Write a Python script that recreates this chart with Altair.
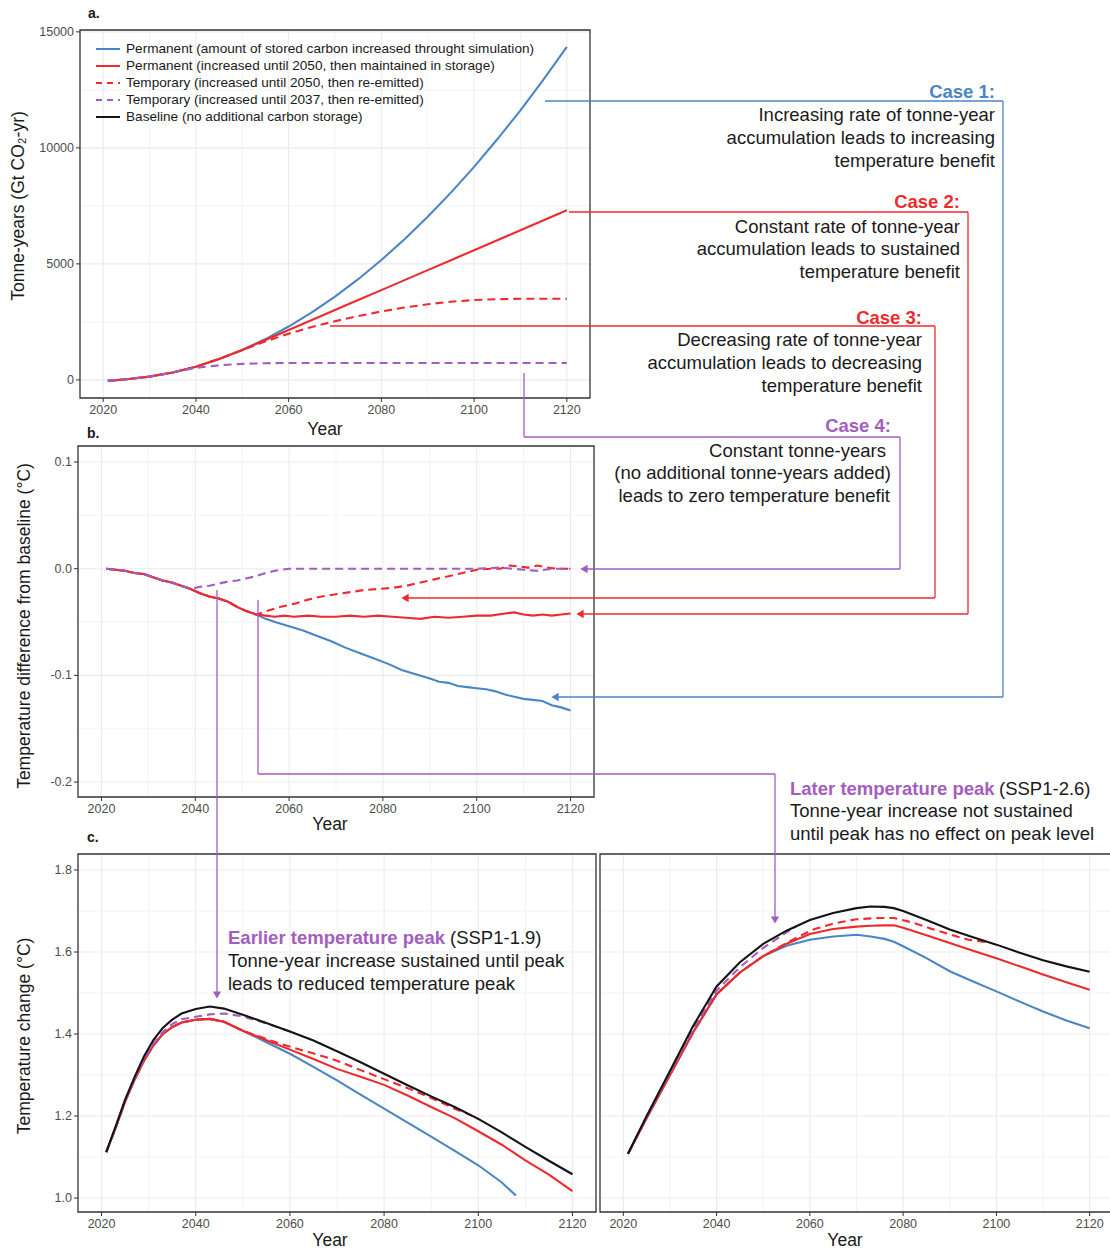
import altair as alt
import pandas as pd

# ---------------------------------------------------------------------------
# Series definitions
# ---------------------------------------------------------------------------
SERIES = ["perm_inc", "perm_2050", "temp_2050", "temp_2037", "baseline"]
LEGEND_LABELS = [
    "Permanent (amount of stored carbon increased throught simulation)",
    "Permanent (increased until 2050, then maintained in storage)",
    "Temporary (increased until 2050, then re-emitted)",
    "Temporary (increased until 2037, then re-emitted)",
    "Baseline (no additional carbon storage)",
]

BLUE, RED, PURPLE, BLACK = "#4A86C5", "#EE2A2E", "#A35DC1", "#141414"
TEXT = "#1A1A1A"
COLOR = {"perm_inc": BLUE, "perm_2050": RED, "temp_2050": RED,
         "temp_2037": PURPLE, "baseline": BLACK}
DASHED = {"perm_inc": False, "perm_2050": False, "temp_2050": True,
          "temp_2037": True, "baseline": False}

# ---------------------------------------------------------------------------
# a. Tonne-years (Gt CO2-yr)
# ---------------------------------------------------------------------------
A_YEARS = [2021, 2025, 2030, 2035, 2040, 2045, 2050, 2055, 2060, 2065, 2070,
           2075, 2080, 2085, 2090, 2095, 2100, 2105, 2110, 2115, 2120]
A_PERM_INC = [-40, 30, 140, 320, 570, 900, 1290, 1760, 2300, 2910, 3590,
              4340, 5170, 6060, 7030, 8070, 9180, 10370, 11620, 12950, 14350]
A_PERM_2050 = [-40, 30, 140, 320, 570, 900, 1290, 1720, 2150, 2580, 3010,
               3440, 3870, 4300, 4730, 5160, 5590, 6020, 6450, 6880, 7310]
A_TEMP_2050 = [-40, 30, 140, 320, 570, 900, 1290, 1660, 1990, 2280, 2530,
               2750, 2950, 3120, 3260, 3370, 3440, 3480, 3500, 3500, 3500]
A_YEARS_2037 = [2021, 2025, 2030, 2035, 2037, 2040, 2045, 2050, 2055, 2060,
                2070, 2080, 2090, 2100, 2110, 2120]
A_TEMP_2037 = [-40, 30, 140, 320, 410, 520, 630, 690, 720, 730,
               730, 730, 730, 730, 730, 730]

# ---------------------------------------------------------------------------
# b. Temperature difference from baseline (degC)
# ---------------------------------------------------------------------------
B_SHARED_YEARS = [2021, 2023, 2025, 2027, 2029, 2031, 2033, 2035, 2037, 2039,
                  2041, 2043, 2045, 2047, 2049, 2051, 2053]
B_SHARED = [0.000, -0.001, -0.002, -0.004, -0.005, -0.008, -0.011, -0.013,
            -0.016, -0.019, -0.023, -0.026, -0.028, -0.031, -0.036, -0.040,
            -0.043]
B_INC_YEARS = [2055, 2057, 2060, 2063, 2066, 2069, 2072, 2075, 2078, 2081,
               2084, 2087, 2090, 2092, 2094, 2096, 2098, 2100, 2102, 2104,
               2106, 2108, 2110, 2112, 2114, 2116, 2118, 2120]
B_PERM_INC = [-0.047, -0.050, -0.054, -0.058, -0.063, -0.068, -0.074, -0.079,
              -0.084, -0.089, -0.095, -0.099, -0.103, -0.106, -0.107, -0.110,
              -0.111, -0.112, -0.113, -0.115, -0.118, -0.120, -0.122, -0.123,
              -0.124, -0.128, -0.130, -0.133]
B_P50_YEARS = [2055, 2057, 2059, 2061, 2064, 2067, 2070, 2073, 2076, 2079,
               2082, 2085, 2088, 2091, 2094, 2097, 2100, 2103, 2106, 2108,
               2110, 2112, 2114, 2116, 2118, 2120]
B_PERM_2050 = [-0.044, -0.045, -0.044, -0.045, -0.044, -0.045, -0.045, -0.044,
               -0.045, -0.044, -0.045, -0.046, -0.047, -0.045, -0.046, -0.045,
               -0.044, -0.044, -0.042, -0.041, -0.043, -0.044, -0.043, -0.044,
               -0.043, -0.042]
B_T50_YEARS = [2055, 2058, 2061, 2064, 2067, 2070, 2073, 2076, 2079, 2082,
               2085, 2088, 2091, 2094, 2097, 2100, 2103, 2105, 2107, 2109,
               2111, 2113, 2115, 2117, 2120]
B_TEMP_2050 = [-0.040, -0.036, -0.033, -0.029, -0.026, -0.024, -0.022, -0.020,
               -0.019, -0.018, -0.016, -0.013, -0.010, -0.007, -0.004, -0.001,
               0.000, 0.000, 0.003, 0.002, 0.001, 0.003, 0.001, 0.000, 0.000]
B_T37_YEARS = [2039, 2041, 2043, 2045, 2047, 2049, 2051, 2053, 2055, 2057,
               2060, 2065, 2070, 2075, 2080, 2085, 2090, 2095, 2100, 2105,
               2110, 2113, 2116, 2120]
B_TEMP_2037 = [-0.019, -0.017, -0.016, -0.014, -0.012, -0.011, -0.009, -0.007,
               -0.004, -0.002, 0.000, 0.000, 0.000, 0.000, 0.000, 0.000,
               0.000, 0.000, 0.000, 0.001, -0.001, -0.002, 0.000, 0.000]

# ---------------------------------------------------------------------------
# c. Temperature change (degC): SSP1-1.9 (left) and SSP1-2.6 (right)
# ---------------------------------------------------------------------------
C1_YEARS = [2021, 2023, 2025, 2027, 2029, 2031, 2033, 2035, 2037, 2040, 2043,
            2046, 2050, 2055, 2060, 2065, 2070, 2075, 2080, 2085, 2090, 2095,
            2100, 2105, 2110, 2115, 2120]
C1_BASELINE = [1.112, 1.175, 1.240, 1.295, 1.345, 1.385, 1.415, 1.435, 1.450,
               1.461, 1.467, 1.462, 1.447, 1.427, 1.406, 1.384, 1.358, 1.331,
               1.303, 1.275, 1.248, 1.222, 1.193, 1.160, 1.125, 1.091, 1.058]
C1_PERM_2050 = [1.112, 1.172, 1.235, 1.288, 1.335, 1.372, 1.400, 1.417, 1.428,
                1.435, 1.437, 1.430, 1.408, 1.385, 1.362, 1.339, 1.315, 1.296,
                1.276, 1.250, 1.222, 1.195, 1.163, 1.130, 1.092, 1.057, 1.017]
C1_INC_YEARS = [2021, 2023, 2025, 2027, 2029, 2031, 2033, 2035, 2037, 2040,
                2043, 2046, 2050, 2055, 2060, 2065, 2070, 2075, 2080, 2085,
                2090, 2095, 2100, 2105, 2108]
C1_PERM_INC = [1.112, 1.172, 1.235, 1.288, 1.335, 1.372, 1.400, 1.417, 1.428,
               1.435, 1.437, 1.430, 1.408, 1.380, 1.352, 1.320, 1.287, 1.252,
               1.218, 1.184, 1.150, 1.115, 1.080, 1.038, 1.006]
C1_T50_YEARS = [2021, 2023, 2025, 2027, 2029, 2031, 2033, 2035, 2037, 2040,
                2043, 2046, 2050, 2055, 2058, 2061, 2064, 2067, 2070, 2075,
                2080, 2085, 2090, 2095, 2098, 2100]
C1_TEMP_2050 = [1.112, 1.172, 1.235, 1.288, 1.335, 1.372, 1.400, 1.417, 1.428,
                1.435, 1.437, 1.430, 1.408, 1.388, 1.376, 1.366, 1.356, 1.346,
                1.335, 1.312, 1.290, 1.268, 1.244, 1.218, 1.204, 1.193]
C1_T37_YEARS = [2021, 2023, 2025, 2027, 2029, 2031, 2033, 2035, 2037, 2040,
                2043, 2046, 2050, 2053, 2056, 2060]
C1_TEMP_2037 = [1.112, 1.173, 1.237, 1.290, 1.338, 1.376, 1.405, 1.424, 1.436,
                1.442, 1.448, 1.450, 1.443, 1.433, 1.422, 1.406]

C2_YEARS = [2021, 2025, 2030, 2035, 2040, 2045, 2050, 2055, 2060, 2065, 2070,
            2073, 2076, 2078, 2080, 2085, 2090, 2095, 2100, 2105, 2110, 2115,
            2120]
C2_BASELINE = [1.108, 1.200, 1.310, 1.420, 1.516, 1.575, 1.620, 1.652, 1.678,
               1.695, 1.707, 1.711, 1.710, 1.707, 1.700, 1.678, 1.655, 1.636,
               1.618, 1.598, 1.580, 1.565, 1.552]
C2_PERM_2050 = [1.108, 1.195, 1.300, 1.405, 1.497, 1.550, 1.590, 1.620, 1.644,
                1.656, 1.662, 1.664, 1.665, 1.665, 1.659, 1.641, 1.622, 1.603,
                1.585, 1.565, 1.545, 1.526, 1.508]
C2_PERM_INC = [1.108, 1.195, 1.300, 1.405, 1.497, 1.550, 1.590, 1.615, 1.630,
               1.638, 1.642, 1.638, 1.632, 1.625, 1.614, 1.585, 1.553, 1.528,
               1.504, 1.479, 1.455, 1.433, 1.414]
C2_T50_YEARS = [2021, 2025, 2030, 2035, 2040, 2045, 2050, 2055, 2058, 2061,
                2065, 2070, 2075, 2078, 2082, 2086, 2090, 2094, 2098]
C2_TEMP_2050 = [1.108, 1.195, 1.300, 1.405, 1.497, 1.550, 1.590, 1.622, 1.640,
                1.656, 1.669, 1.680, 1.683, 1.683, 1.672, 1.657, 1.643, 1.630,
                1.624]
C2_T37_YEARS = [2021, 2025, 2030, 2035, 2040, 2045, 2050, 2055, 2057]
C2_TEMP_2037 = [1.108, 1.198, 1.305, 1.412, 1.506, 1.563, 1.610, 1.648, 1.662]

# ---------------------------------------------------------------------------
# Axis breaks and labels
# ---------------------------------------------------------------------------
X_DOMAIN = [2015, 2125]
X_MAJOR = [2020, 2040, 2060, 2080, 2100, 2120]
X_MINOR = [2030, 2050, 2070, 2090, 2110]
A_Y_MAJOR = [0, 5000, 10000, 15000]
A_Y_LABELS = ["0", "5000", "10000", "15000"]
A_Y_MINOR = [2500, 7500, 12500]
B_Y_MAJOR = [-0.2, -0.1, 0.0, 0.1]
B_Y_LABELS = ["-0.2", "-0.1", "0.0", "0.1"]
B_Y_MINOR = [-0.15, -0.05, 0.05]
C_Y_MAJOR = [1.0, 1.2, 1.4, 1.6, 1.8]
C_Y_LABELS = ["1.0", "1.2", "1.4", "1.6", "1.8"]
C_Y_MINOR = [1.1, 1.3, 1.5, 1.7]

# ---------------------------------------------------------------------------
# Page layout (pixels)
# ---------------------------------------------------------------------------
W, H = 1110, 1252
FONT = "Liberation Sans"
GRID = "#EBEBEB"
FRAME = "#333333"
TICK_TEXT = "#4D4D4D"
NOTE_SIZE = 18.5


def series_frame(years, values):
    return pd.DataFrame({"year": years, "value": values})


def panel(lines, px, py, ydom, ymajor, ylabels, yminor, show_y=True):
    """One framed panel with its own x/y scales mapped into a page region."""
    xs = alt.Scale(domain=X_DOMAIN, range=list(px), nice=False, zero=False)
    ys = alt.Scale(domain=ydom, range=[py[1], py[0]], nice=False, zero=False)
    X = lambda f: alt.X(f, scale=xs, axis=None)
    Y = lambda f: alt.Y(f, scale=ys, axis=None)
    layers = []
    # grid
    for vals, w in ((X_MINOR, 0.6), (X_MAJOR, 1.1)):
        layers.append(alt.Chart(pd.DataFrame({"v": vals}))
                      .mark_rule(color=GRID, strokeWidth=w)
                      .encode(x=X("v:Q"), y=alt.value(py[0]), y2=alt.value(py[1])))
    for vals, w in ((yminor, 0.6), (ymajor, 1.1)):
        layers.append(alt.Chart(pd.DataFrame({"v": vals}))
                      .mark_rule(color=GRID, strokeWidth=w)
                      .encode(y=Y("v:Q"), x=alt.value(px[0]), x2=alt.value(px[1])))
    # data lines
    for key, df in lines:
        kw = {"strokeDash": [8, 5]} if DASHED[key] else {}
        layers.append(alt.Chart(df)
                      .mark_line(color=COLOR[key], strokeWidth=2.1, **kw)
                      .encode(x=X("year:Q"), y=Y("value:Q")))
    # frame
    box = pd.DataFrame({"x0": [X_DOMAIN[0]], "x1": [X_DOMAIN[1]],
                        "y0": [ydom[0]], "y1": [ydom[1]]})
    layers.append(alt.Chart(box)
                  .mark_rect(fillOpacity=0, stroke=FRAME, strokeWidth=1.3)
                  .encode(x=X("x0:Q"), x2="x1:Q", y=Y("y0:Q"), y2="y1:Q"))
    # x ticks + labels
    xt = pd.DataFrame({"v": X_MAJOR, "lab": [str(v) for v in X_MAJOR]})
    layers.append(alt.Chart(xt).mark_rule(color=FRAME, strokeWidth=1)
                  .encode(x=X("v:Q"), y=alt.value(py[1]), y2=alt.value(py[1] + 4)))
    layers.append(alt.Chart(xt)
                  .mark_text(baseline="top", fontSize=12.5, font=FONT, color=TICK_TEXT)
                  .encode(x=X("v:Q"), y=alt.value(py[1] + 6), text="lab:N"))
    if show_y:
        yt = pd.DataFrame({"v": ymajor, "lab": ylabels})
        layers.append(alt.Chart(yt).mark_rule(color=FRAME, strokeWidth=1)
                      .encode(y=Y("v:Q"), x=alt.value(px[0] - 4), x2=alt.value(px[0])))
        layers.append(alt.Chart(yt)
                      .mark_text(align="right", baseline="middle", fontSize=12.5,
                                 font=FONT, color=TICK_TEXT)
                      .encode(y=Y("v:Q"), x=alt.value(px[0] - 6), text="lab:N"))
    return alt.layer(*layers)


panel_a = panel(
    [("perm_inc", series_frame(A_YEARS, A_PERM_INC)),
     ("perm_2050", series_frame(A_YEARS, A_PERM_2050)),
     ("temp_2050", series_frame(A_YEARS, A_TEMP_2050)),
     ("temp_2037", series_frame(A_YEARS_2037, A_TEMP_2037))],
    (80, 590), (30, 398), [-780, 15080], A_Y_MAJOR, A_Y_LABELS, A_Y_MINOR)

n37 = sum(1 for y in B_SHARED_YEARS if y <= 2037)
panel_b = panel(
    [("perm_inc", series_frame(B_SHARED_YEARS + B_INC_YEARS, B_SHARED + B_PERM_INC)),
     ("perm_2050", series_frame(B_SHARED_YEARS + B_P50_YEARS, B_SHARED + B_PERM_2050)),
     ("temp_2050", series_frame(B_SHARED_YEARS + B_T50_YEARS, B_SHARED + B_TEMP_2050)),
     ("temp_2037", series_frame(B_SHARED_YEARS[:n37] + B_T37_YEARS,
                                B_SHARED[:n37] + B_TEMP_2037))],
    (78, 594), (446, 797), [-0.214, 0.115], B_Y_MAJOR, B_Y_LABELS, B_Y_MINOR)

panel_c1 = panel(
    [("perm_inc", series_frame(C1_INC_YEARS, C1_PERM_INC)),
     ("perm_2050", series_frame(C1_YEARS, C1_PERM_2050)),
     ("temp_2050", series_frame(C1_T50_YEARS, C1_TEMP_2050)),
     ("temp_2037", series_frame(C1_T37_YEARS, C1_TEMP_2037)),
     ("baseline", series_frame(C1_YEARS, C1_BASELINE))],
    (78, 596), (854, 1212), [0.966, 1.839], C_Y_MAJOR, C_Y_LABELS, C_Y_MINOR)

panel_c2 = panel(
    [("perm_inc", series_frame(C2_YEARS, C2_PERM_INC)),
     ("perm_2050", series_frame(C2_YEARS, C2_PERM_2050)),
     ("temp_2050", series_frame(C2_T50_YEARS, C2_TEMP_2050)),
     ("temp_2037", series_frame(C2_T37_YEARS, C2_TEMP_2037)),
     ("baseline", series_frame(C2_YEARS, C2_BASELINE))],
    (600, 1113), (854, 1212), [0.966, 1.839], C_Y_MAJOR, C_Y_LABELS, C_Y_MINOR,
    show_y=False)

# ---------------------------------------------------------------------------
# Page-level annotations (pixel positions)
# ---------------------------------------------------------------------------
PX = lambda f: alt.X(f, scale=None, axis=None)
PY = lambda f: alt.Y(f, scale=None, axis=None)

# legend of panel a
legend_layers = []
for i, (key, label) in enumerate(zip(SERIES, LEGEND_LABELS)):
    row = pd.DataFrame({"x": [96], "x2": [120], "y": [49 + 17 * i],
                        "tx": [126], "label": [label]})
    kw = {"strokeDash": [6, 5]} if DASHED[key] else {}
    legend_layers.append(alt.Chart(row)
                         .mark_rule(color=COLOR[key], strokeWidth=2, **kw)
                         .encode(x=PX("x:Q"), x2="x2:Q", y=PY("y:Q")))
    legend_layers.append(alt.Chart(row)
                         .mark_text(align="left", baseline="middle", fontSize=13.6,
                                    font=FONT, color=TEXT)
                         .encode(x=PX("tx:Q"), y=PY("y:Q"), text="label:N"))

# connectors from annotations to curves
connectors = pd.DataFrame([
    # case 1
    (545, 101, 1003, 101, BLUE), (1003, 101, 1003, 697, BLUE),
    (1003, 697, 553, 697, BLUE),
    # case 2
    (569, 212, 968, 212, RED), (968, 212, 968, 614, RED),
    (968, 614, 580, 614, RED),
    # case 3
    (330, 326, 935, 326, RED), (935, 326, 935, 598, RED),
    (935, 598, 404, 598, RED),
    # case 4
    (524, 373, 524, 437, PURPLE), (524, 437, 900, 437, PURPLE),
    (900, 437, 900, 569, PURPLE), (900, 569, 583, 569, PURPLE),
    # earlier / later peak
    (217, 590, 217, 996, PURPLE),
    (258, 600, 258, 774, PURPLE), (258, 774, 775, 774, PURPLE),
    (775, 774, 775, 921, PURPLE),
], columns=["x", "y", "x2", "y2", "color"])

arrows = pd.DataFrame([
    (555, 697, "triangle-left", BLUE),
    (580, 614, "triangle-left", RED),
    (405, 598, "triangle-left", RED),
    (584, 569, "triangle-left", PURPLE),
    (217, 995, "triangle-down", PURPLE),
    (775, 920, "triangle-down", PURPLE),
], columns=["x", "y", "shape", "color"])

connector_layer = (alt.Chart(connectors).mark_rule(strokeWidth=1.3)
                   .encode(x=PX("x:Q"), x2="x2:Q", y=PY("y:Q"), y2="y2:Q",
                           color=alt.Color("color:N", scale=None)))
arrow_layer = (alt.Chart(arrows).mark_point(filled=True, size=70, opacity=1)
               .encode(x=PX("x:Q"), y=PY("y:Q"),
                       shape=alt.Shape("shape:N", scale=None),
                       color=alt.Color("color:N", scale=None)))

ANNOT = pd.DataFrame([
    # text, x, y, color, align, bold
    ("Case 1:", 995, 92, BLUE, "right", True),
    ("Increasing rate of tonne-year", 995, 115, TEXT, "right", False),
    ("accumulation leads to increasing", 995, 138, TEXT, "right", False),
    ("temperature benefit", 995, 161, TEXT, "right", False),
    ("Case 2:", 960, 202, RED, "right", True),
    ("Constant rate of tonne-year", 960, 227, TEXT, "right", False),
    ("accumulation leads to sustained", 960, 249, TEXT, "right", False),
    ("temperature benefit", 960, 272, TEXT, "right", False),
    ("Case 3:", 922, 318, RED, "right", True),
    ("Decreasing rate of tonne-year", 922, 340, TEXT, "right", False),
    ("accumulation leads to decreasing", 922, 363, TEXT, "right", False),
    ("temperature benefit", 922, 386, TEXT, "right", False),
    ("Case 4:", 891, 426, PURPLE, "right", True),
    ("Constant tonne-years", 886, 451, TEXT, "right", False),
    ("(no additional tonne-years added)", 891, 473, TEXT, "right", False),
    ("leads to zero temperature benefit", 890, 496, TEXT, "right", False),
    ("Earlier temperature peak", 228, 938, PURPLE, "left", True),
    ("(SSP1-1.9)", 450, 938, TEXT, "left", False),
    ("Tonne-year increase sustained until peak", 228, 961, TEXT, "left", False),
    ("leads to reduced temperature peak", 228, 984, TEXT, "left", False),
    ("Later temperature peak", 790, 789, PURPLE, "left", True),
    ("(SSP1-2.6)", 999, 789, TEXT, "left", False),
    ("Tonne-year increase not sustained", 790, 811, TEXT, "left", False),
    ("until peak has no effect on peak level", 790, 834, TEXT, "left", False),
], columns=["text", "x", "y", "color", "align", "bold"])

text_layers = []
for align in ("left", "right"):
    for bold in (False, True):
        sub = ANNOT[(ANNOT["align"] == align) & (ANNOT["bold"] == bold)]
        text_layers.append(
            alt.Chart(sub).mark_text(align=align, baseline="middle",
                                     fontSize=NOTE_SIZE, font=FONT,
                                     fontWeight="bold" if bold else "normal")
            .encode(x=PX("x:Q"), y=PY("y:Q"), text="text:N",
                    color=alt.Color("color:N", scale=None)))

TITLES = pd.DataFrame([
    ("Year", 325, 430, 0), ("Year", 330, 825, 0),
    ("Year", 330, 1241, 0), ("Year", 845, 1241, 0),
    ("Tonne-years (Gt CO\u2082-yr)", 19, 206, 270),
    ("Temperature difference from baseline (\u00b0C)", 25, 626, 270),
    ("Temperature change (\u00b0C)", 25, 1036, 270),
], columns=["text", "x", "y", "angle"])
title_layer = (alt.Chart(TITLES)
               .mark_text(align="center", baseline="middle", fontSize=17.5,
                          font=FONT, color=TEXT)
               .encode(x=PX("x:Q"), y=PY("y:Q"), text="text:N",
                       angle=alt.Angle("angle:Q", scale=None)))

TAGS = pd.DataFrame([("a.", 88, 14), ("b.", 87, 434), ("c.", 87, 838)],
                    columns=["text", "x", "y"])
tag_layer = (alt.Chart(TAGS)
             .mark_text(align="left", baseline="middle", fontSize=14,
                        fontWeight="bold", font=FONT, color=TEXT)
             .encode(x=PX("x:Q"), y=PY("y:Q"), text="text:N"))

chart = (
    alt.layer(panel_a, panel_b, panel_c1, panel_c2, *legend_layers,
              connector_layer, arrow_layer, *text_layers, title_layer, tag_layer)
    .resolve_scale(x="independent", y="independent")
    .properties(width=W, height=H, padding=0, background="white",
                autosize=alt.AutoSizeParams(type="none"))
    .configure_view(stroke=None)
)

chart.save("out.html", embed_options={"renderer": "svg", "actions": False})
